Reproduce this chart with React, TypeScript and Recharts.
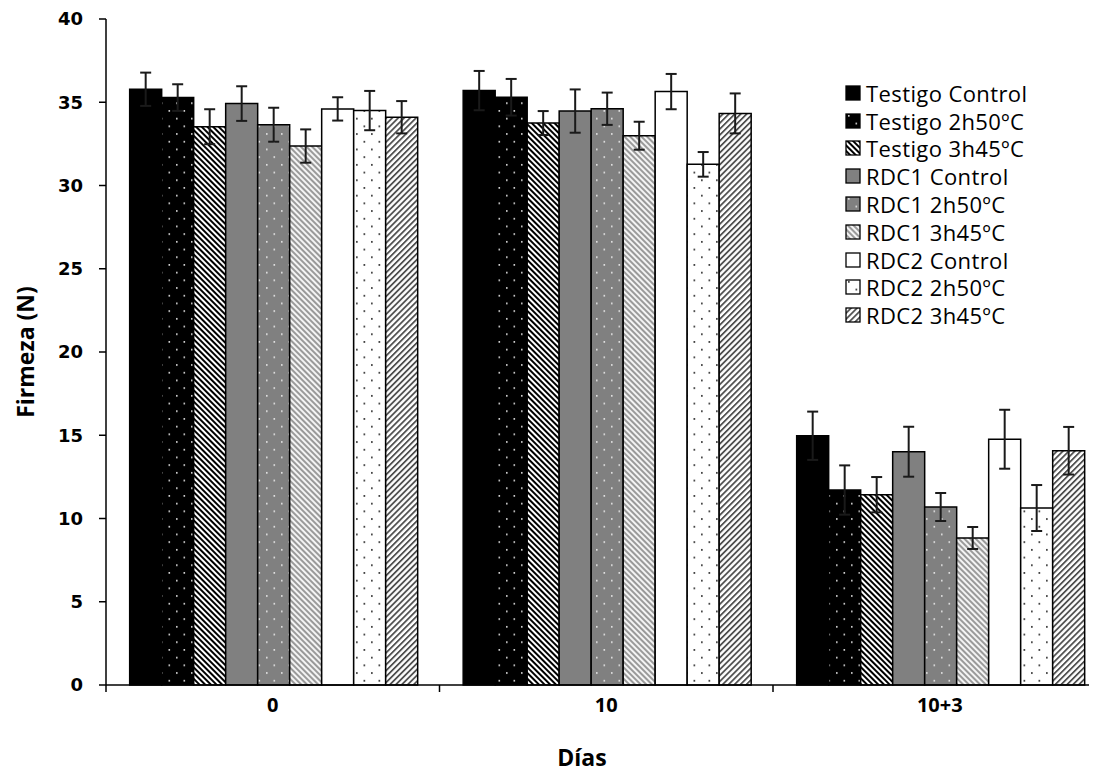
import React from 'react';
import { BarChart, Bar, XAxis, YAxis, ErrorBar, Legend, Label } from 'recharts';

const categories = ['0', '10', '10+3'];
const seriesNames = [
  'Testigo Control',
  'Testigo 2h50ºC',
  'Testigo 3h45ºC',
  'RDC1 Control',
  'RDC1 2h50ºC',
  'RDC1 3h45ºC',
  'RDC2 Control',
  'RDC2 2h50ºC',
  'RDC2 3h45ºC',
];
const testigoControl = [35.78, 35.7, 14.97];
const testigo2h50 = [35.28, 35.3, 11.71];
const testigo3h45 = [33.53, 33.75, 11.43];
const rdc1Control = [34.92, 34.47, 14.01];
const rdc12h50 = [33.65, 34.61, 10.69];
const rdc13h45 = [32.37, 32.99, 8.83];
const rdc2Control = [34.6, 35.64, 14.76];
const rdc22h50 = [34.5, 31.27, 10.63];
const rdc23h45 = [34.1, 34.33, 14.07];

const errTestigoControl = [1.0, 1.18, 1.45];
const errTestigo2h50 = [0.8, 1.1, 1.48];
const errTestigo3h45 = [1.05, 0.72, 1.06];
const errRdc1Control = [1.04, 1.3, 1.5];
const errRdc12h50 = [1.02, 0.97, 0.84];
const errRdc13h45 = [1.0, 0.84, 0.66];
const errRdc2Control = [0.7, 1.06, 1.77];
const errRdc22h50 = [1.18, 0.74, 1.38];
const errRdc23h45 = [0.97, 1.2, 1.43];

const yTicks = [0, 5, 10, 15, 20, 25, 30, 35, 40];

const values = [testigoControl, testigo2h50, testigo3h45, rdc1Control, rdc12h50, rdc13h45, rdc2Control, rdc22h50, rdc23h45];
const errors = [errTestigoControl, errTestigo2h50, errTestigo3h45, errRdc1Control, errRdc12h50, errRdc13h45, errRdc2Control, errRdc22h50, errRdc23h45];

const fills = [
  '#000000',
  'url(#dotsBlack)',
  'url(#stripesBlack)',
  '#808080',
  'url(#dotsGray)',
  'url(#stripesGray)',
  '#ffffff',
  'url(#dotsWhite)',
  'url(#stripesUp)',
];

const data = categories.map((c, i) => {
  const row: any = { day: c };
  values.forEach((v, s) => {
    row['s' + s] = v[i];
    row['e' + s] = errors[s][i];
  });
  return row;
});

const legendContent = () => (
  <div style={{ fontFamily: '"Open Sans", sans-serif', fontSize: 22, color: '#000', lineHeight: 1, letterSpacing: 0.4 }}>
    {seriesNames.map((n, i) => (
      <div key={n} style={{ height: 27.8, display: 'flex', alignItems: 'center', whiteSpace: 'nowrap' }}>
        <svg width={16} height={16} style={{ marginRight: 5, flex: 'none' }}>
          <rect x={1} y={1} width={14} height={14} fill={fills[i]} stroke="#000" strokeWidth={1.3} />
        </svg>
        <span>{n}</span>
      </div>
    ))}
  </div>
);

const CatTick = (props: any) => {
  const { x, y, payload, index, visibleTicksCount } = props;
  const half = payload && payload.offset ? payload.offset : 0;
  const axisY = y - 13;
  return (
    <g>
      <line x1={x - half} y1={axisY} x2={x - half} y2={axisY + 7} stroke="#000" strokeWidth={1.5} />
      {index === visibleTicksCount - 1 ? (
        <line x1={x + half} y1={axisY} x2={x + half} y2={axisY + 7} stroke="#000" strokeWidth={1.5} />
      ) : null}
      <text
        x={x}
        y={y + 14}
        textAnchor="middle"
        fontFamily='"Open Sans", sans-serif'
        fontWeight="bold"
        fontSize={20}
        fill="#000"
      >
        {payload.value}
      </text>
    </g>
  );
};

export default function App() {
  return (
    <div style={{ width: 1089, height: 770, overflow: 'hidden', position: 'relative' }}>
      <BarChart
        width={1100}
        height={770}
        data={data}
        margin={{ top: 11, right: 1.5, left: 0, bottom: 0 }}
        barCategoryGap="7.1%"
        barGap={0}
      >
        <defs>
          <pattern id="dotsBlack" patternUnits="userSpaceOnUse" width={15} height={15.4}>
            <rect width={15} height={15.4} fill="#000" />
            <rect x={3} y={2} width={1.6} height={1.6} fill="#e0e0e0" />
            <rect x={10.5} y={9.7} width={1.6} height={1.6} fill="#e0e0e0" />
          </pattern>
          <pattern id="dotsGray" patternUnits="userSpaceOnUse" width={15} height={15.4}>
            <rect width={15} height={15.4} fill="#808080" />
            <rect x={3} y={2} width={1.6} height={1.6} fill="#e8e8e8" />
            <rect x={10.5} y={9.7} width={1.6} height={1.6} fill="#e8e8e8" />
          </pattern>
          <pattern id="dotsWhite" patternUnits="userSpaceOnUse" width={15} height={15.4}>
            <rect width={15} height={15.4} fill="#fff" />
            <rect x={3} y={2} width={1.7} height={1.7} fill="#333" />
            <rect x={10.5} y={9.7} width={1.7} height={1.7} fill="#333" />
          </pattern>
          <pattern id="stripesBlack" patternUnits="userSpaceOnUse" width={4} height={4} patternTransform="rotate(-45)">
            <rect width={4} height={4} fill="#fff" />
            <rect width={2} height={4} fill="#000" />
          </pattern>
          <pattern id="stripesGray" patternUnits="userSpaceOnUse" width={4} height={4} patternTransform="rotate(-45)">
            <rect width={4} height={4} fill="#f4f4f4" />
            <rect width={2} height={4} fill="#9a9a9a" />
          </pattern>
          <pattern id="stripesUp" patternUnits="userSpaceOnUse" width={4.2} height={4.2} patternTransform="rotate(45)">
            <rect width={4.2} height={4.2} fill="#fff" />
            <rect width={1.8} height={4.2} fill="#505050" />
          </pattern>
        </defs>
        <XAxis
          xAxisId="cat"
          dataKey="day"
          height={93}
          tickLine={false}
          tickSize={0}
          tickMargin={13}
          axisLine={{ stroke: '#000', strokeWidth: 1.5 }}
          tick={<CatTick />}
          interval={0}
        >
          <Label
            content={() => (
              <text x={574} y={758} textAnchor="middle" fontFamily='"Open Sans", sans-serif' fontWeight="bold" fontSize={23} fill="#000">
                Días
              </text>
            )}
          />
        </XAxis>
        <YAxis
          width={98}
          domain={[0, 40]}
          ticks={yTicks}
          tickSize={7}
          tickMargin={16}
          axisLine={{ stroke: '#000', strokeWidth: 1.5 }}
          tickLine={{ stroke: '#000', strokeWidth: 1.5 }}
          tick={{ fill: '#000', fontSize: 18, fontWeight: 'bold', fontFamily: '"DejaVu Sans", sans-serif' }}
        >
          <Label
            content={() => (
              <text
                x={17}
                y={344}
                transform="rotate(-90 17 344)"
                textAnchor="middle"
                dominantBaseline="central"
                fontFamily='"Open Sans", sans-serif'
                fontWeight="bold"
                fontSize={23}
                fill="#000"
              >
                Firmeza (N)
              </text>
            )}
          />
        </YAxis>
        <Legend
          layout="horizontal"
          verticalAlign="middle"
          align="center"
          content={legendContent}
          wrapperStyle={{ position: 'absolute', left: 837, top: 71, width: 240 }}
        />
        {seriesNames.map((n, i) => (
          <Bar
            key={n}
            xAxisId="cat"
            dataKey={'s' + i}
            name={n}
            fill={fills[i]}
            stroke="#000"
            strokeWidth={1.5}
            isAnimationActive={false}
          >
            <ErrorBar dataKey={'e' + i} width={5.5} stroke="#1a1a1a" strokeWidth={2} direction="y" />
          </Bar>
        ))}
      </BarChart>
    </div>
  );
}
